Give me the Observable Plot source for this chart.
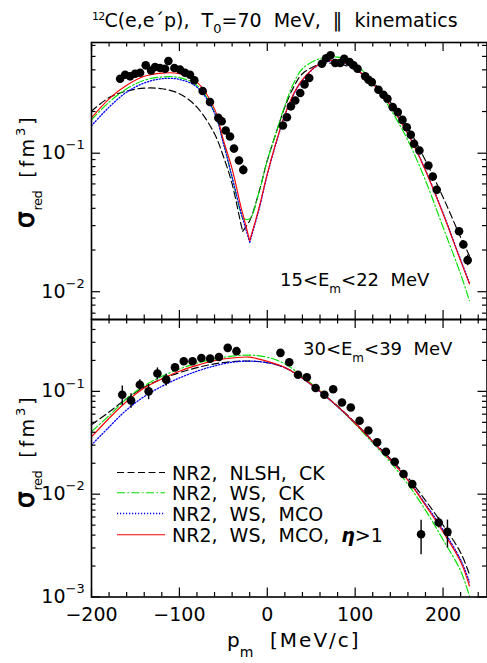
<!DOCTYPE html>
<html>
<head>
<meta charset="utf-8">
<script src="https://cdn.jsdelivr.net/npm/d3@7"></script>
<script src="https://cdn.jsdelivr.net/npm/@observablehq/plot@0.6"></script>
<style>
  body { margin: 0; background: #fff; }
  #chart { position: relative; width: 487px; height: 663px; font-family: "DejaVu Sans", sans-serif; }
  #chart svg { position: absolute; left: 0; }
</style>
</head>
<body>
<div id="chart"></div>
<script>
// ---------- axes / ticks ----------
const xMajor = [-200, -100, 0, 100, 200];
const xTickLabels = ["−200", "−100", "0", "100", "200"];
const xMinor = [-180, -160, -140, -120, -80, -60, -40, -20, 20, 40, 60, 80, 120, 140, 160, 180, 220, 240];
const topDomain = [0.0063, 0.63];
const botDomain = [0.001, 0.5];
const topYMajor = [0.01, 0.1];
const topYExp = ["−2", "−1"];
const botYMajor = [0.001, 0.01, 0.1];
const botYExp = ["−3", "−2", "−1"];
const minorMult = [2, 3, 4, 5, 6, 7, 8, 9];

// ---------- top panel: 15<Em<22 MeV ----------
const topDataX = [-167.4, -161.7, -156.1, -150.4, -144.7, -138.3, -132.2, -127.7, -122, -116.3, -112.5, -105.7, -99.2, -93.6, -87.9, -83, -73.5, -65.2, -55.7, -51.9, -47.3, -42.4, -37.9, -32.2, -27.3,
  17.8, 22.3, 26.9, 31.8, 37.5, 42.4, 47.7, 62.1, 67, 72, 77.3, 83, 87.5, 93.6, 98.1, 102.7, 111.4, 115.2, 118.9, 126.5, 132.2, 136.7, 142.8, 148.5, 153.8, 158.7, 163.3, 167, 173.1, 183.3, 188.3, 192.8, 218.2, 223.1, 228];
const topDataY = [0.345, 0.369, 0.359, 0.375, 0.381, 0.431, 0.396, 0.419, 0.412, 0.407, 0.463, 0.412, 0.401, 0.381, 0.369, 0.336, 0.281, 0.234, 0.180, 0.170, 0.146, 0.132, 0.108, 0.0885, 0.0758,
  0.1585, 0.182, 0.218, 0.240, 0.272, 0.314, 0.349, 0.443, 0.485, 0.509, 0.448, 0.448, 0.481, 0.455, 0.431, 0.407, 0.359, 0.339, 0.326, 0.287, 0.264, 0.247, 0.215, 0.198, 0.174, 0.154, 0.136, 0.117, 0.1046, 0.0815, 0.0678, 0.0544, 0.0273, 0.0219, 0.0169];
const topDataErr = [0, 0, 0, 0, 0, 0, 0, 0, 0, 0, 0, 0, 0, 0, 0, 0, 0, 0, 0, 0, 0, 0, 0, 0.005, 0.006,
  0, 0, 0, 0, 0, 0, 0, 0, 0, 0, 0, 0, 0, 0, 0, 0, 0, 0, 0, 0, 0, 0, 0, 0, 0, 0, 0, 0, 0, 0, 0, 0, 0.0015, 0.0015, 0.0015];

const topCurveX = [-200, -180, -160, -140, -120, -100, -80, -60, -50, -40, -30, -28, -20, -10, 0, 10, 20, 30, 40, 60, 80, 100, 120, 140, 160, 180, 200, 220, 230];
const topNLSH_CK = [0.201, 0.252, 0.281, 0.295, 0.292, 0.269, 0.215, 0.138, 0.095, 0.060, 0.0308, 0.0273, 0.0326, 0.0508, 0.0886, 0.14, 0.215, 0.30, 0.375, 0.438, 0.443, 0.401, 0.326, 0.234, 0.153, 0.0886, 0.0481, 0.0247, 0.0182];
const topWS_CK = [0.174, 0.234, 0.292, 0.336, 0.355, 0.351, 0.309, 0.198, 0.12, 0.067, 0.0365, 0.0336, 0.0336, 0.0508, 0.0886, 0.14, 0.221, 0.32, 0.407, 0.482, 0.494, 0.438, 0.326, 0.209, 0.124, 0.0635, 0.0292, 0.0134, 0.0086];
const topWS_MCO = [0.158, 0.215, 0.276, 0.321, 0.345, 0.341, 0.300, 0.195, 0.118, 0.067, 0.0374, 0.0338, 0.0228, 0.038, 0.070, 0.118, 0.188, 0.265, 0.336, 0.440, 0.462, 0.405, 0.318, 0.222, 0.139, 0.0755, 0.037, 0.017, 0.0116];
const topWS_MCO_eta = [0.180, 0.247, 0.309, 0.359, 0.379, 0.375, 0.326, 0.209, 0.125, 0.077, 0.041, 0.0367, 0.0234, 0.039, 0.071, 0.12, 0.19, 0.269, 0.34, 0.443, 0.468, 0.407, 0.318, 0.221, 0.138, 0.075, 0.0365, 0.0167, 0.0114];

// ---------- bottom panel: 30<Em<39 MeV ----------
const botDataX = [-165, -155, -145, -135, -125, -115, -105, -95, -85, -75, -65, -55, -45, -35, 15, 25, 35, 45, 55, 65, 75, 85, 95, 105, 115, 125, 135, 145, 155, 165, 175, 195, 205];
const botDataY = [0.0927, 0.0816, 0.116, 0.100, 0.149, 0.130, 0.171, 0.196, 0.196, 0.211, 0.208, 0.216, 0.265, 0.246, 0.237, 0.192, 0.145, 0.137, 0.108, 0.0927, 0.105, 0.078, 0.0697, 0.0517, 0.0416, 0.032, 0.0259, 0.0207, 0.0157, 0.01253, 0.00407, 0.0053, 0.0043];
const botDataErr = [0.020, 0.013, 0.014, 0.017, 0.020, 0.017, 0.010, 0.010, 0.010, 0.010, 0.010, 0.010, 0.012, 0.012, 0.010, 0.008, 0.006, 0.006, 0.005, 0.004, 0.004, 0.003, 0.003, 0.002, 0.002, 0.0015, 0.001, 0.0008, 0.0006, 0.0006, 0.0015, 0.0006, 0.0013];

const botCurveX = [-200, -180, -160, -140, -120, -100, -80, -60, -40, -20, 0, 20, 40, 60, 80, 100, 120, 140, 160, 180, 200, 220, 230];
const botNLSH_CK = [0.0473, 0.063, 0.085, 0.11, 0.132, 0.152, 0.170, 0.185, 0.195, 0.197, 0.19, 0.17, 0.135, 0.1, 0.072, 0.0495, 0.033, 0.0222, 0.0145, 0.0087, 0.005, 0.0027, 0.00166];
const botWS_CK = [0.0406, 0.058, 0.085, 0.113, 0.14, 0.165, 0.188, 0.207, 0.22, 0.225, 0.215, 0.185, 0.14, 0.101, 0.071, 0.048, 0.0315, 0.0205, 0.0125, 0.0070, 0.0036, 0.0018, 0.00102];
const botWS_MCO = [0.0301, 0.045, 0.0662, 0.089, 0.112, 0.135, 0.157, 0.177, 0.192, 0.197, 0.19, 0.17, 0.134, 0.099, 0.071, 0.049, 0.0325, 0.0215, 0.0138, 0.008, 0.0045, 0.0023, 0.0014];
const botWS_MCO_eta = [0.036, 0.0548, 0.0798, 0.1077, 0.132, 0.157, 0.179, 0.199, 0.211, 0.215, 0.196, 0.171, 0.135, 0.1, 0.0714, 0.049, 0.0325, 0.0215, 0.0137, 0.0078, 0.0043, 0.0022, 0.00128];

// ---------- legend / text ----------
const modelNames = ["NR2,  NLSH,  CK", "NR2,  WS,  CK", "NR2,  WS,  MCO", "NR2,  WS,  MCO,  "];
const modelColors = ["#000000", "#00e000", "#0000ff", "#ff0000"];
const modelDashes = ["7,3.5", "8,2.5,1.5,2.5", "1.2,1.8", null];
const panelRanges = [["15", "22"], ["30", "39"]];

// ---------- helpers ----------
const W = 487, ML = 91, MR = 0.5;
const PW = W - ML - MR;
const TICK_MAJ = 9, TICK_MIN = 4.5;
const nb = s => s.replace(/ /g, "\u00a0");

function minorTicks(dom) {
  const out = [];
  for (let e = -4; e <= 0; e++) for (const m of minorMult) {
    const v = m * Math.pow(10, e);
    if (v > dom[0] * 1.001 && v < dom[1] * 0.999) out.push(v);
  }
  return out;
}

function curveRows(xs, ys, model, split) {
  let m = -1;
  if (split) {
    let best = Infinity;
    xs.forEach((x, i) => { if (x >= -45 && x <= 0 && ys[i] < best) { best = ys[i]; m = i; } });
  }
  const rows = [];
  xs.forEach((x, i) => {
    if (m < 0) rows.push({x, y: ys[i], model, branch: model + "a"});
    else {
      if (i <= m) rows.push({x, y: ys[i], model, branch: model + "a"});
      if (i >= m) rows.push({x, y: ys[i], model, branch: model + "b"});
    }
  });
  return rows;
}

function lineMarks(xs, series, split) {
  return series.map((ys, k) => Plot.line(curveRows(xs, ys, k, split), {
    x: "x", y: "y", z: "branch", curve: "catmull-rom",
    stroke: modelColors[k], strokeWidth: k === 2 ? 1.3 : 1.15,
    strokeDasharray: modelDashes[k] ?? undefined
  }));
}

function tickMarks(PH, yMajor, yDom) {
  const yMinor = minorTicks(yDom);
  const s = {stroke: "black", strokeWidth: 1.2};
  return [
    Plot.tickX(xMajor, {x: d => d, insetBottom: PH - TICK_MAJ, ...s}),
    Plot.tickX(xMinor, {x: d => d, insetBottom: PH - TICK_MIN, ...s}),
    Plot.tickX(xMajor, {x: d => d, insetTop: PH - TICK_MAJ, ...s}),
    Plot.tickX(xMinor, {x: d => d, insetTop: PH - TICK_MIN, ...s}),
    Plot.tickY(yMajor, {y: d => d, insetRight: PW - TICK_MAJ, ...s}),
    Plot.tickY(yMinor, {y: d => d, insetRight: PW - TICK_MIN, ...s}),
    Plot.tickY(yMajor, {y: d => d, insetLeft: PW - TICK_MAJ, ...s}),
    Plot.tickY(yMinor, {y: d => d, insetLeft: PW - TICK_MIN, ...s})
  ];
}

function yLabelMarks(yMajor, yExp) {
  const rows = yMajor.map((v, i) => ({v, e: yExp[i]}));
  return [
    Plot.text(rows, {y: "v", text: () => "10", frameAnchor: "left", textAnchor: "end", dx: -26, fontSize: 19}),
    Plot.text(rows, {y: "v", text: "e", frameAnchor: "left", textAnchor: "start", dx: -26, dy: -8, fontSize: 13})
  ];
}

function dataRows(xs, ys, es) {
  return xs.map((x, i) => ({x, y: ys[i], lo: ys[i] - es[i], hi: ys[i] + es[i], e: es[i]}));
}

function panel({height, marginTop, marginBottom, yDomain, yMajor, yExp, curveX, series, split, data, xLabels}) {
  const PH = height - marginTop - marginBottom;
  const marks = [
    ...lineMarks(curveX, series, split),
    Plot.ruleX(data.filter(d => d.e > 0), {x: "x", y1: "lo", y2: "hi", stroke: "black", strokeWidth: 1.4}),
    Plot.dot(data, {x: "x", y: "y", r: 4.3, fill: "black"}),
    ...tickMarks(PH, yMajor, yDomain),
    Plot.frame({stroke: "black", strokeWidth: 1.6}),
    ...yLabelMarks(yMajor, yExp)
  ];
  if (xLabels) {
    marks.push(Plot.text(xMajor.map((v, i) => ({v, t: xTickLabels[i]})), {
      x: "v", text: "t", frameAnchor: "bottom", lineAnchor: "top", dy: 10, fontSize: 19
    }));
  }
  return Plot.plot({
    width: W, height, marginLeft: ML, marginRight: MR, marginTop, marginBottom,
    x: {type: "linear", domain: [-200, 250], axis: null},
    y: {type: "log", domain: yDomain, axis: null},
    style: {fontFamily: "DejaVu Sans", overflow: "visible", background: "transparent"},
    marks
  });
}

const chart = document.getElementById("chart");

const topPlot = panel({
  height: 319, marginTop: 42, marginBottom: 0,
  yDomain: topDomain, yMajor: topYMajor, yExp: topYExp,
  curveX: topCurveX, series: [topNLSH_CK, topWS_CK, topWS_MCO, topWS_MCO_eta], split: true,
  data: dataRows(topDataX, topDataY, topDataErr), xLabels: false
});
topPlot.style.top = "0px";
chart.appendChild(topPlot);

const botPlot = panel({
  height: 344, marginTop: 0, marginBottom: 66.5,
  yDomain: botDomain, yMajor: botYMajor, yExp: botYExp,
  curveX: botCurveX, series: [botNLSH_CK, botWS_CK, botWS_MCO, botWS_MCO_eta], split: false,
  data: dataRows(botDataX, botDataY, botDataErr), xLabels: true
});
botPlot.style.top = "319px";
chart.appendChild(botPlot);

// ---------- overlay text: title, axis titles, annotations, legend ----------
const ov = d3.select(chart).append("svg")
  .attr("width", W).attr("height", 663)
  .style("top", "0px").style("overflow", "visible").style("pointer-events", "none")
  .attr("font-family", "DejaVu Sans");

const title = ov.append("text").attr("x", 92).attr("y", 26.5).attr("font-size", 19);
title.append("tspan").attr("font-size", 11).attr("letter-spacing", -0.8).attr("dy", -7).text("12");
title.append("tspan").attr("dy", 7).text(nb("C(e,e´p),  T"));
title.append("tspan").attr("font-size", 13).attr("dy", 6).text("0");
title.append("tspan").attr("dy", -6).text(nb("=70  MeV,  ‖  kinematics"));

function yTitle(y0) {
  const t = ov.append("text").attr("transform", `translate(34,${y0}) rotate(-90)`).attr("font-size", 19);
  t.append("tspan").attr("font-size", 26).attr("stroke", "black").attr("stroke-width", 0.9).text("σ");
  t.append("tspan").attr("font-size", 13).attr("letter-spacing", -0.5).attr("dx", 1).attr("dy", 8).text("red");
  t.append("tspan").attr("dx", 13).attr("dy", -8).attr("letter-spacing", 3).text("[fm");
  t.append("tspan").attr("font-size", 13).attr("dy", -9).attr("letter-spacing", 3).text("3");
  t.append("tspan").attr("dy", 9).text("]");
}
yTitle(228);
yTitle(508);

const xt = ov.append("text").attr("x", 227).attr("y", 647).attr("font-size", 20);
xt.append("tspan").text("p");
xt.append("tspan").attr("font-size", 14).attr("dy", 10).text("m");
xt.append("tspan").attr("dy", -10).attr("letter-spacing", 2).text(nb("  [MeV/c]"));

function annotate(x, y, r) {
  const t = ov.append("text").attr("x", x).attr("y", y).attr("font-size", 18);
  t.append("tspan").text(r[0] + "<E");
  t.append("tspan").attr("font-size", 12).attr("dy", 7).text("m");
  t.append("tspan").attr("dy", -7).text(nb("<" + r[1] + "  MeV"));
}
annotate(280, 286, panelRanges[0]);
annotate(303, 355, panelRanges[1]);

const legendY = [472.5, 492.7, 513.5, 534.7];
modelNames.forEach((name, i) => {
  const y = legendY[i];
  const ln = ov.append("line").attr("x1", 117).attr("x2", 165).attr("y1", y).attr("y2", y)
    .attr("stroke", modelColors[i]).attr("stroke-width", i === 2 ? 1.3 : 1.15);
  if (modelDashes[i]) ln.attr("stroke-dasharray", modelDashes[i]);
  const t = ov.append("text").attr("x", 172).attr("y", y + 7).attr("font-size", 19).text(nb(name));
  if (i === 3) {
    t.append("tspan").attr("font-style", "italic").attr("font-weight", "bold").text("η");
    t.append("tspan").text(">1");
  }
});
</script>
</body>
</html>
